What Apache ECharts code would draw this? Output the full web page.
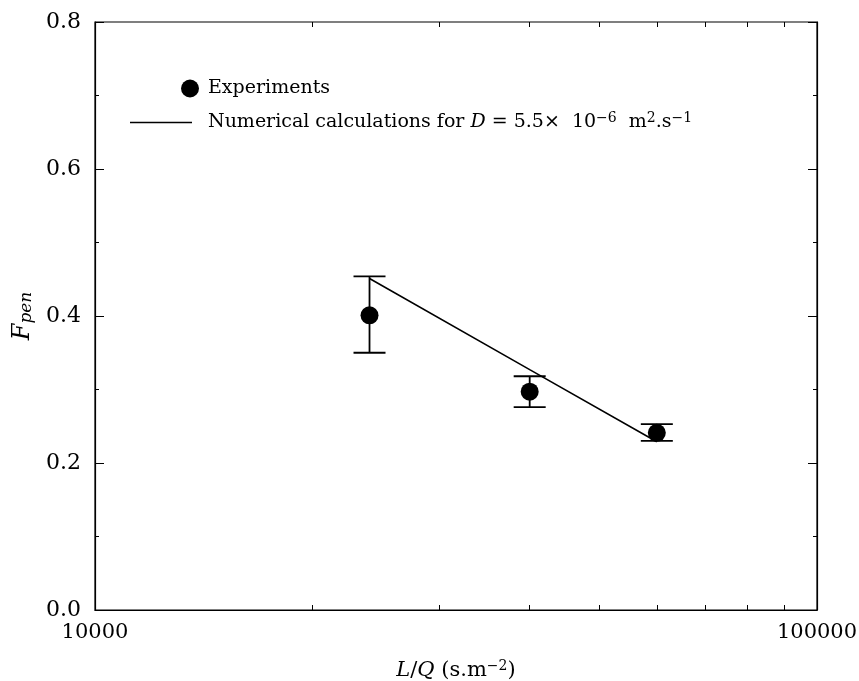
<!DOCTYPE html>
<html><head><meta charset="utf-8">
<script src="https://cdn.jsdelivr.net/npm/echarts@6/dist/echarts.min.js"></script>
<style>html,body{margin:0;padding:0;background:#fff}#c{width:859px;height:681px}</style>
</head><body><div id="c"></div>
<script>
const xValues = [24000, 40000, 60000];
const expValues = [0.401, 0.297, 0.241];
const errLow = [0.350, 0.276, 0.230];
const errHigh = [0.454, 0.318, 0.253];
const numX = [24000, 40000, 60000];
const numValues = [0.451, 0.327, 0.229];
const xMinorTicks = [20000, 30000, 40000, 50000, 60000, 70000, 80000, 90000];

const FONT = 'DejaVu Serif';
const chart = echarts.init(document.getElementById('c'));
const expData = xValues.map((x, i) => [x, expValues[i]]);
const errData = xValues.map((x, i) => [x, errLow[i], errHigh[i]]);
const numData = numX.map((x, i) => [x, numValues[i]]);
const NUM_NAME = 'Numerical';

const supStyle = {fontFamily: FONT, fontSize: 14, verticalAlign: 'bottom', padding: [0,0,9,0], color: '#000'};
chart.setOption({
  animation: false,
  grid: {left: 95, right: 42, top: 22, bottom: 71, show: true, borderColor: '#000', borderWidth: 1.2,
         outerBoundsMode: 'none', containLabel: false},
  legend: [
    {data: ['Experiments'], left: 181, top: 79, padding: 0, itemWidth: 18, itemHeight: 18,
     textStyle: {fontFamily: FONT, fontSize: 19, color: '#000', padding: [0,0,0,4]}},
    {data: [{name: NUM_NAME, icon: 'rect'}], left: 130, top: 111, padding: 0, itemWidth: 62, itemHeight: 1.5,
     formatter: () => 'Numerical calculations for {i|D} = 5.5×  10{sup|−6}  m{sup|2}.s{sup|−1}',
     textStyle: {fontFamily: FONT, fontSize: 19, color: '#000', padding: [0,0,0,11],
       rich: {i: {fontFamily: FONT, fontStyle: 'italic', fontSize: 19, color: '#000'}, sup: supStyle}}}
  ],
  xAxis: [
    {type: 'log', min: 10000, max: 100000, logBase: 10, position: 'bottom',
     name: '{i|L}/{i|Q} (s.m{sup|−2})', nameLocation: 'middle', nameGap: 49,
     nameTextStyle: {fontFamily: FONT, fontSize: 21, color: '#000',
       rich: {i: {fontFamily: FONT, fontStyle: 'italic', fontSize: 21, color: '#000'}, sup: supStyle}},
     axisLine: {show: true, lineStyle: {color: '#000', width: 1.2}},
     axisTick: {show: false}, splitLine: {show: false},
     axisLabel: {fontFamily: FONT, fontSize: 21, color: '#000', margin: 12, formatter: v => String(v)}},
    {type: 'log', min: 10000, max: 100000, logBase: 10, position: 'bottom',
     axisLine: {show: false}, axisLabel: {show: false}, splitLine: {show: false},
     axisTick: {show: true, inside: true, length: 5, customValues: xMinorTicks, lineStyle: {color: '#000'}}},
    {type: 'log', min: 10000, max: 100000, logBase: 10, position: 'top',
     axisLine: {show: false}, axisLabel: {show: false}, splitLine: {show: false},
     axisTick: {show: true, inside: true, length: 5, customValues: xMinorTicks, lineStyle: {color: '#000'}}}
  ],
  yAxis: [
    {type: 'value', min: 0, max: 0.8, interval: 0.2, position: 'left',
     name: '{f|F}{sub|pen}', nameLocation: 'middle', nameGap: 56, nameRotate: 90,
     nameTextStyle: {rich: {f: {fontFamily: FONT, fontStyle: 'italic', fontSize: 24, color: '#000'},
       sub: {fontFamily: FONT, fontStyle: 'italic', fontSize: 17, verticalAlign: 'bottom', color: '#000'}}},
     axisLine: {show: true, lineStyle: {color: '#000', width: 1.2}},
     axisTick: {show: true, inside: true, length: 9, lineStyle: {color: '#000'}},
     minorTick: {show: true, splitNumber: 2, length: 4, lineStyle: {color: '#000'}},
     splitLine: {show: false},
     axisLabel: {fontFamily: FONT, fontSize: 22, color: '#000', margin: 14, formatter: v => v.toFixed(1)}},
    {type: 'value', min: 0, max: 0.8, interval: 0.2, position: 'right',
     axisLine: {show: true, lineStyle: {color: '#000', width: 1.2}},
     axisTick: {show: true, inside: true, length: 9, lineStyle: {color: '#000'}},
     minorTick: {show: true, splitNumber: 2, length: 4, lineStyle: {color: '#000'}},
     splitLine: {show: false}, axisLabel: {show: false}}
  ],
  series: [
    {name: NUM_NAME, type: 'line', data: numData, showSymbol: false, symbol: 'none',
     lineStyle: {color: '#000', width: 1.6}, itemStyle: {color: '#000'}, z: 3},
    {name: 'errors', type: 'custom', data: errData, z: 4,
     renderItem: (params, api) => {
       const x = api.value(0);
       const lo = api.coord([x, api.value(1)]);
       const hi = api.coord([x, api.value(2)]);
       const w = 16;
       const st = {stroke: '#000', lineWidth: 1.8};
       return {type: 'group', children: [
         {type: 'line', shape: {x1: lo[0], y1: lo[1], x2: hi[0], y2: hi[1]}, style: st},
         {type: 'line', shape: {x1: lo[0]-w, y1: lo[1], x2: lo[0]+w, y2: lo[1]}, style: st},
         {type: 'line', shape: {x1: hi[0]-w, y1: hi[1], x2: hi[0]+w, y2: hi[1]}, style: st}
       ]};
     }},
    {name: 'Experiments', type: 'scatter', data: expData, symbol: 'circle', symbolSize: 18,
     itemStyle: {color: '#000', opacity: 1}, z: 5}
  ]
});
</script></body></html>
